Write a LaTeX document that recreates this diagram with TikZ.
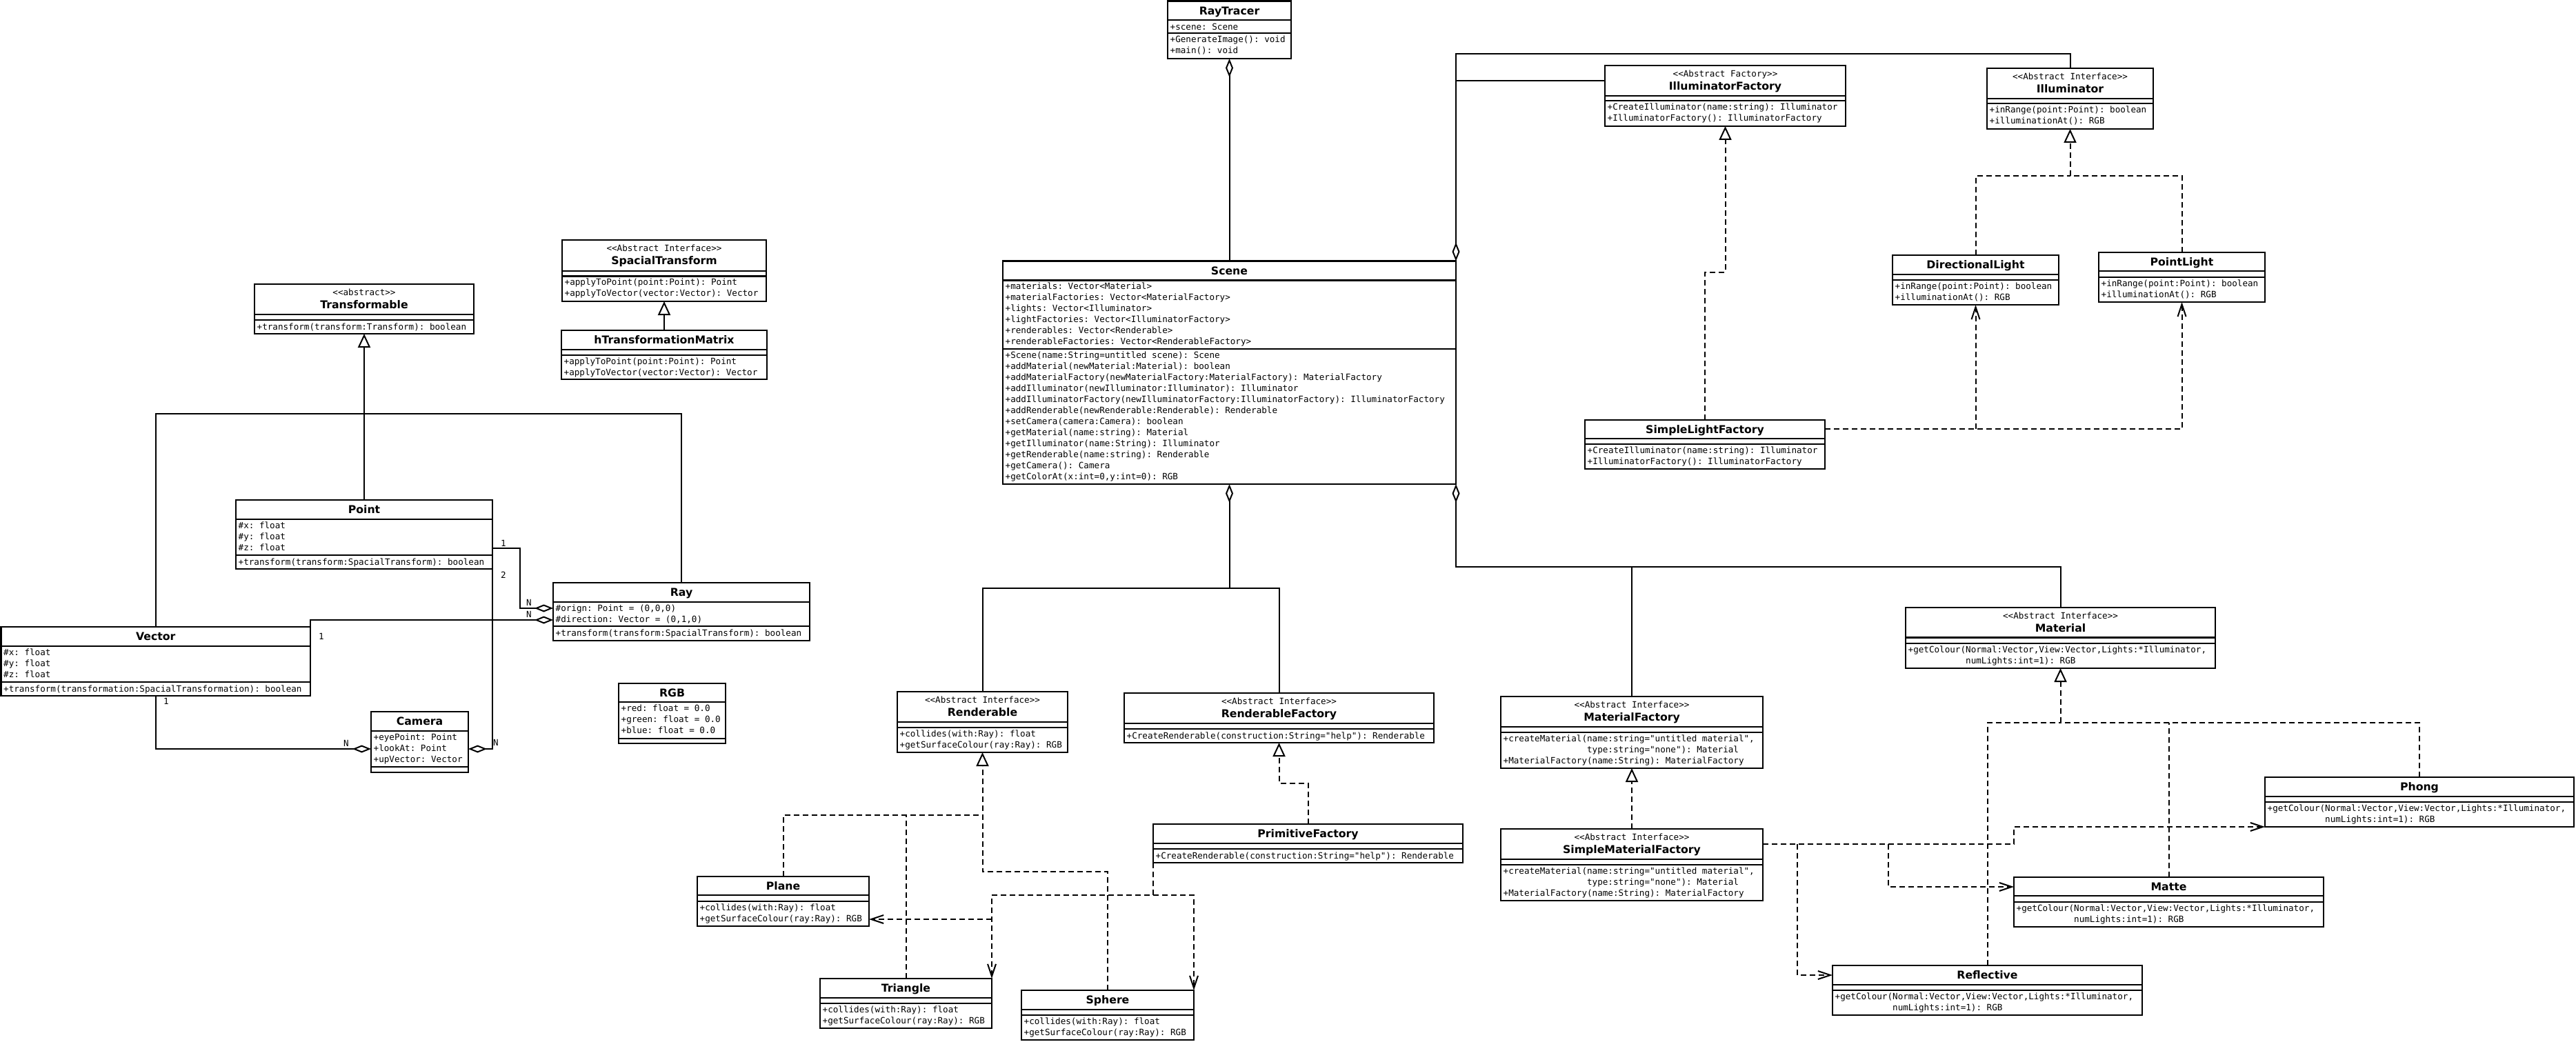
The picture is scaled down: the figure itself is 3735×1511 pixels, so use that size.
\documentclass[tikz,border=0pt]{standalone}
\usepackage{fontspec}
\setmainfont{DejaVu Sans}
\setsansfont{DejaVu Sans}
\setmonofont{DejaVu Sans Mono}
\usetikzlibrary{arrows.meta}

\newcommand{\umlmono}{\ttfamily\fontsize{12.6}{16}\selectfont}
\newcommand{\umlbold}{\sffamily\bfseries\fontsize{15.7}{18}\selectfont}

\tikzset{
  classframe/.style={draw, line width=2.2pt, inner sep=0pt, outer sep=0pt},
  classrule/.style={line width=2.2pt},
  cname/.style={font=\umlbold, anchor=base, inner sep=0pt, yshift=-5.7pt},
  cstereo/.style={font=\umlmono, anchor=base, inner sep=0pt, yshift=-4.5pt},
  members/.style={font=\umlmono, anchor=north west, align=left, inner sep=0pt,
    xshift=3.5pt, yshift=-3.3pt, execute at begin node=\strut},
  mult/.style={font=\umlmono, inner sep=0pt},
  conn/.style={line width=2pt},
  dashedline/.style={conn, dash pattern=on 8pt off 5pt},
  aggr/.style={conn, {Diamond[open, length=27pt, width=11pt]}-},
  aggrend/.style={conn, -{Diamond[open, length=27pt, width=11pt]}},
  inherit/.style={conn, -{Triangle[open, length=20pt, width=18pt]}},
  realize/.style={dashedline, -{Triangle[open, length=20pt, width=18pt]}},
  depend/.style={dashedline, -{Straight Barb[length=18pt, width=12pt]}},
}

% frame of a class: name, left, right, top, first rule, second rule, bottom
\newcommand{\umlclass}[7]{%
  \node[classframe, minimum width={(#3-#2)*1pt}, minimum height={(#7-#4)*1pt}]
    (#1) at ({(#2+#3)/2},{(#4+#7)/2}) {};
  \draw[classrule] (#2,#5) -- (#3,#5) (#2,#6) -- (#3,#6);
  \coordinate (#1-r1) at (#2,#5);
  \coordinate (#1-r2) at (#2,#6);
}
\newcommand{\classname}[2]{\node[cname] (#1-name) at ([yshift=-14pt]#1.north) {#2};}
\newcommand{\stereoname}[3]{%
  \node[cstereo] (#1-stereo) at ([yshift=-12pt]#1.north) {<{}<#2>{}>};
  \node[cname] (#1-name) at ([yshift=-30pt]#1.north) {#3};}

\begin{document}
\begin{tikzpicture}[x=1pt, y=-1pt]
  \fill[white] (0,0) rectangle (3735,1511);
  \useasboundingbox (0,0) rectangle (3735,1511);

  % core
  \umlclass{raytracer}{1693}{1872}{1.5}{29}{48}{85}
  \classname{raytracer}{RayTracer}
  \node[members] (raytracer-attrs) at (raytracer-r1) {+scene: Scene};
  \node[members] (raytracer-ops) at (raytracer-r2) {+GenerateImage(): void\\+main(): void};

  \umlclass{scene}{1454}{2111}{378.5}{406.5}{506}{702}
  \classname{scene}{Scene}
  \node[members] (scene-attrs) at (scene-r1) {+materials: Vector<Material>\\
    +materialFactories: Vector<MaterialFactory>\\
    +lights: Vector<Illuminator>\\
    +lightFactories: Vector<IlluminatorFactory>\\
    +renderables: Vector<Renderable>\\
    +renderableFactories: Vector<RenderableFactory>};
  \node[members] (scene-ops) at (scene-r2) {+Scene(name:String=untitled scene): Scene\\
    +addMaterial(newMaterial:Material): boolean\\
    +addMaterialFactory(newMaterialFactory:MaterialFactory): MaterialFactory\\
    +addIlluminator(newIlluminator:Illuminator): Illuminator\\
    +addIlluminatorFactory(newIlluminatorFactory:IlluminatorFactory): IlluminatorFactory\\
    +addRenderable(newRenderable:Renderable): Renderable\\
    +setCamera(camera:Camera): boolean\\
    +getMaterial(name:string): Material\\
    +getIlluminator(name:String): Illuminator\\
    +getRenderable(name:string): Renderable\\
    +getCamera(): Camera\\
    +getColorAt(x:int=0,y:int=0): RGB};

  % geometry
  \umlclass{transformable}{369}{687}{412}{456}{464}{484}
  \stereoname{transformable}{abstract}{Transformable}
  \node[members] (transformable-ops) at (transformable-r2) {+transform(transform:Transform): boolean};

  \umlclass{spacial}{815}{1111}{348}{393}{400.5}{437}
  \stereoname{spacial}{Abstract Interface}{SpacialTransform}
  \node[members] (spacial-ops) at (spacial-r2) {+applyToPoint(point:Point): Point\\+applyToVector(vector:Vector): Vector};

  \umlclass{htm}{814}{1112}{479}{507}{515}{550}
  \classname{htm}{hTransformationMatrix}
  \node[members] (htm-ops) at (htm-r2) {+applyToPoint(point:Point): Point\\+applyToVector(vector:Vector): Vector};

  \umlclass{point}{342}{714}{725}{753}{805}{825}
  \classname{point}{Point}
  \node[members] (point-attrs) at (point-r1) {\#x: float\\\#y: float\\\#z: float};
  \node[members] (point-ops) at (point-r2) {+transform(transform:SpacialTransform): boolean};

  \umlclass{vector}{1.5}{450}{909}{937}{989}{1009}
  \classname{vector}{Vector}
  \node[members] (vector-attrs) at (vector-r1) {\#x: float\\\#y: float\\\#z: float};
  \node[members] (vector-ops) at (vector-r2) {+transform(transformation:SpacialTransformation): boolean};

  \umlclass{ray}{802}{1174}{845}{873}{908}{929}
  \classname{ray}{Ray}
  \node[members] (ray-attrs) at (ray-r1) {\#orign: Point = (0,0,0)\\\#direction: Vector = (0,1,0)};
  \node[members] (ray-ops) at (ray-r2) {+transform(transform:SpacialTransform): boolean};

  \umlclass{camera}{538}{679}{1032}{1060}{1112}{1120}
  \classname{camera}{Camera}
  \node[members] (camera-attrs) at (camera-r1) {+eyePoint: Point\\+lookAt: Point\\+upVector: Vector};

  \umlclass{rgb}{897}{1052}{991}{1018}{1071}{1078}
  \classname{rgb}{RGB}
  \node[members] (rgb-attrs) at (rgb-r1) {+red: float = 0.0\\+green: float = 0.0\\+blue: float = 0.0};

  % renderables
  \umlclass{renderable}{1301}{1548}{1003}{1047}{1055}{1091}
  \stereoname{renderable}{Abstract Interface}{Renderable}
  \node[members] (renderable-ops) at (renderable-r2) {+collides(with:Ray): float\\+getSurfaceColour(ray:Ray): RGB};

  \umlclass{rfactory}{1630}{2079}{1005}{1049}{1057}{1077}
  \stereoname{rfactory}{Abstract Interface}{RenderableFactory}
  \node[members] (rfactory-ops) at (rfactory-r2) {+CreateRenderable(construction:String="help"): Renderable};

  \umlclass{primfactory}{1672}{2121}{1195}{1223}{1231}{1251}
  \classname{primfactory}{PrimitiveFactory}
  \node[members] (primfactory-ops) at (primfactory-r2) {+CreateRenderable(construction:String="help"): Renderable};

  \umlclass{plane}{1011}{1260}{1271}{1298}{1307}{1343}
  \classname{plane}{Plane}
  \node[members] (plane-ops) at (plane-r2) {+collides(with:Ray): float\\+getSurfaceColour(ray:Ray): RGB};

  \umlclass{triangle}{1189}{1438}{1419}{1447}{1455}{1491}
  \classname{triangle}{Triangle}
  \node[members] (triangle-ops) at (triangle-r2) {+collides(with:Ray): float\\+getSurfaceColour(ray:Ray): RGB};

  \umlclass{sphere}{1481}{1731}{1436}{1464}{1472}{1508}
  \classname{sphere}{Sphere}
  \node[members] (sphere-ops) at (sphere-r2) {+collides(with:Ray): float\\+getSurfaceColour(ray:Ray): RGB};

  % lights
  \umlclass{illfactory}{2327}{2676}{95}{139}{146}{183}
  \stereoname{illfactory}{Abstract Factory}{IlluminatorFactory}
  \node[members] (illfactory-ops) at (illfactory-r2) {+CreateIlluminator(name:string): Illuminator\\+IlluminatorFactory(): IlluminatorFactory};

  \umlclass{illuminator}{2881}{3122}{99}{143}{150}{187}
  \stereoname{illuminator}{Abstract Interface}{Illuminator}
  \node[members] (illuminator-ops) at (illuminator-r2) {+inRange(point:Point): boolean\\+illuminationAt(): RGB};

  \umlclass{dirlight}{2744}{2985}{370}{398}{406}{442}
  \classname{dirlight}{DirectionalLight}
  \node[members] (dirlight-ops) at (dirlight-r2) {+inRange(point:Point): boolean\\+illuminationAt(): RGB};

  \umlclass{pointlight}{3043}{3284}{366}{393}{402}{438}
  \classname{pointlight}{PointLight}
  \node[members] (pointlight-ops) at (pointlight-r2) {+inRange(point:Point): boolean\\+illuminationAt(): RGB};

  \umlclass{slfactory}{2298}{2646}{609}{636}{644}{680}
  \classname{slfactory}{SimpleLightFactory}
  \node[members] (slfactory-ops) at (slfactory-r2) {+CreateIlluminator(name:string): Illuminator\\+IlluminatorFactory(): IlluminatorFactory};

  % materials
  \umlclass{material}{2763}{3212}{881}{924.5}{933}{969}
  \stereoname{material}{Abstract Interface}{Material}
  \node[members] (material-ops) at (material-r2) {+getColour(Normal:Vector,View:Vector,Lights:*Illuminator,\\\phantom{+getColour(}numLights:int=1): RGB};

  \umlclass{matfactory}{2176}{2556}{1010}{1054}{1062}{1114}
  \stereoname{matfactory}{Abstract Interface}{MaterialFactory}
  \node[members] (matfactory-ops) at (matfactory-r2) {+createMaterial(name:string="untitled material",\\
    \phantom{+createMaterial(}type:string="none"): Material\\
    +MaterialFactory(name:String): MaterialFactory};

  \umlclass{smfactory}{2176}{2556}{1202}{1246}{1254}{1306}
  \stereoname{smfactory}{Abstract Interface}{SimpleMaterialFactory}
  \node[members] (smfactory-ops) at (smfactory-r2) {+createMaterial(name:string="untitled material",\\
    \phantom{+createMaterial(}type:string="none"): Material\\
    +MaterialFactory(name:String): MaterialFactory};

  \umlclass{phong}{3284}{3732}{1127}{1155}{1163}{1199}
  \classname{phong}{Phong}
  \node[members] (phong-ops) at (phong-r2) {+getColour(Normal:Vector,View:Vector,Lights:*Illuminator,\\\phantom{+getColour(}numLights:int=1): RGB};

  \umlclass{matte}{2920}{3369}{1272}{1299}{1308}{1344}
  \classname{matte}{Matte}
  \node[members] (matte-ops) at (matte-r2) {+getColour(Normal:Vector,View:Vector,Lights:*Illuminator,\\\phantom{+getColour(}numLights:int=1): RGB};

  \umlclass{reflective}{2657}{3106}{1400}{1428}{1436}{1472}
  \classname{reflective}{Reflective}
  \node[members] (reflective-ops) at (reflective-r2) {+getColour(Normal:Vector,View:Vector,Lights:*Illuminator,\\\phantom{+getColour(}numLights:int=1): RGB};

  % aggregations of the scene
  \draw[aggr] (raytracer.south) -- (scene.north);
  \coordinate (lightbus) at ([yshift=21pt]illuminator.north);
  \coordinate (ifin) at ([yshift=-22pt]illfactory.north west);
  \draw[aggr] (scene.north east) |- (lightbus) -- (illuminator.north);
  \draw[conn] (scene.north east |- ifin) -- (ifin);
  \coordinate (matbus) at ([yshift=59pt]material.north);
  \draw[aggr] (scene.south east) |- (matbus) -- (material.north);
  \draw[conn] (matfactory.north) -- (matfactory.north |- matbus);
  \coordinate (rendbus) at ([yshift=-151pt]scene.south);
  \draw[aggr] (scene.south) -- (rendbus) -| (renderable.north);
  \draw[conn] (rendbus) -| (rfactory.north);

  % geometry links
  \draw[inherit] (point.north) -- (transformable.south);
  \coordinate (tbus) at ([yshift=-116pt]transformable.south);
  \draw[conn] (vector.north) |- (tbus) -| (ray.north);
  \draw[inherit] (htm.north) -- (spacial.south);

  \coordinate (ptout) at ([yshift=-70pt]point.north east);
  \coordinate (rayorig) at ([yshift=-37pt]ray.north west);
  \coordinate (raydir) at ([yshift=-54pt]ray.north west);
  \coordinate (camlookw) at ([yshift=-54pt]camera.north west);
  \coordinate (camlooke) at ([yshift=-54pt]camera.north east);
  \draw[aggrend] (ptout) -- ++(40,0) |- (rayorig);
  \draw[aggrend] (vector.north east) |- (raydir);
  \draw[aggrend] (vector.south) |- (camlookw);
  \draw[aggrend] (point.south east) |- (camlooke);
  \node[mult] (m-pr1) at (730,788) {1};
  \node[mult] (m-pr2) at (767,874) {N};
  \node[mult] (m-vr1) at (466,922.5) {1};
  \node[mult] (m-vr2) at (767,891) {N};
  \node[mult] (m-pc1) at (730,833.5) {2};
  \node[mult] (m-pc2) at (719,1077) {N};
  \node[mult] (m-vc1) at (241,1017) {1};
  \node[mult] (m-vc2) at (502,1078) {N};

  % renderable realizations
  \coordinate (planebus) at ([yshift=-91pt]renderable.south);
  \coordinate (spherebus) at ([yshift=-173pt]renderable.south);
  \draw[realize] (sphere.north) |- (spherebus) -- (renderable.south);
  \draw[dashedline] (plane.north) |- (planebus);
  \draw[dashedline] (triangle.north) -- (triangle.north |- planebus);
  \coordinate (primbus) at ([yshift=-59pt]rfactory.south);
  \draw[realize] (primfactory.north) |- (primbus) -- (rfactory.south);

  \coordinate (shapebus) at ([yshift=-47pt]primfactory.south west);
  \coordinate (planein) at ([yshift=-62pt]plane.north east);
  \draw[depend] (primfactory.south west) -- (shapebus) -| (triangle.north east);
  \draw[depend] (shapebus) -| (sphere.north east);
  \draw[depend] (triangle.north east |- planein) -- (planein);

  % light realizations
  \coordinate (lfbus) at ([yshift=-212pt]illfactory.south);
  \draw[realize] (slfactory.north) |- (lfbus) -- (illfactory.south);
  \coordinate (illbus) at ([yshift=-68pt]illuminator.south);
  \draw[realize] (illbus) -- (illuminator.south);
  \draw[dashedline] (dirlight.north) |- (illbus);
  \draw[dashedline] (pointlight.north) |- (illbus);
  \coordinate (slout) at ([yshift=-13pt]slfactory.north east);
  \draw[depend] (slout) -| (pointlight.south);
  \draw[depend] (dirlight.south |- slout) -- (dirlight.south);

  % material realizations
  \draw[realize] (smfactory.north) -- (matfactory.south);
  \coordinate (mtbus) at ([yshift=-79pt]material.south);
  \draw[realize] (mtbus) -- (material.south);
  \draw[dashedline] (reflective.north) |- (mtbus);
  \draw[dashedline] (phong.north) |- (mtbus);
  \draw[dashedline] (matte.north) -- (matte.north |- mtbus);

  \coordinate (smout) at ([yshift=-22pt]smfactory.north east);
  \coordinate (mattein) at ([yshift=-14pt]matte.north west);
  \coordinate (reflin) at ([yshift=-14pt]reflective.north west);
  \draw[depend] (smout) -- (matte.west |- smout) |- (phong.south west);
  \draw[depend] ([xshift=182pt]smout) |- (mattein);
  \draw[depend] ([xshift=50pt]smout) |- (reflin);
\end{tikzpicture}
\end{document}
